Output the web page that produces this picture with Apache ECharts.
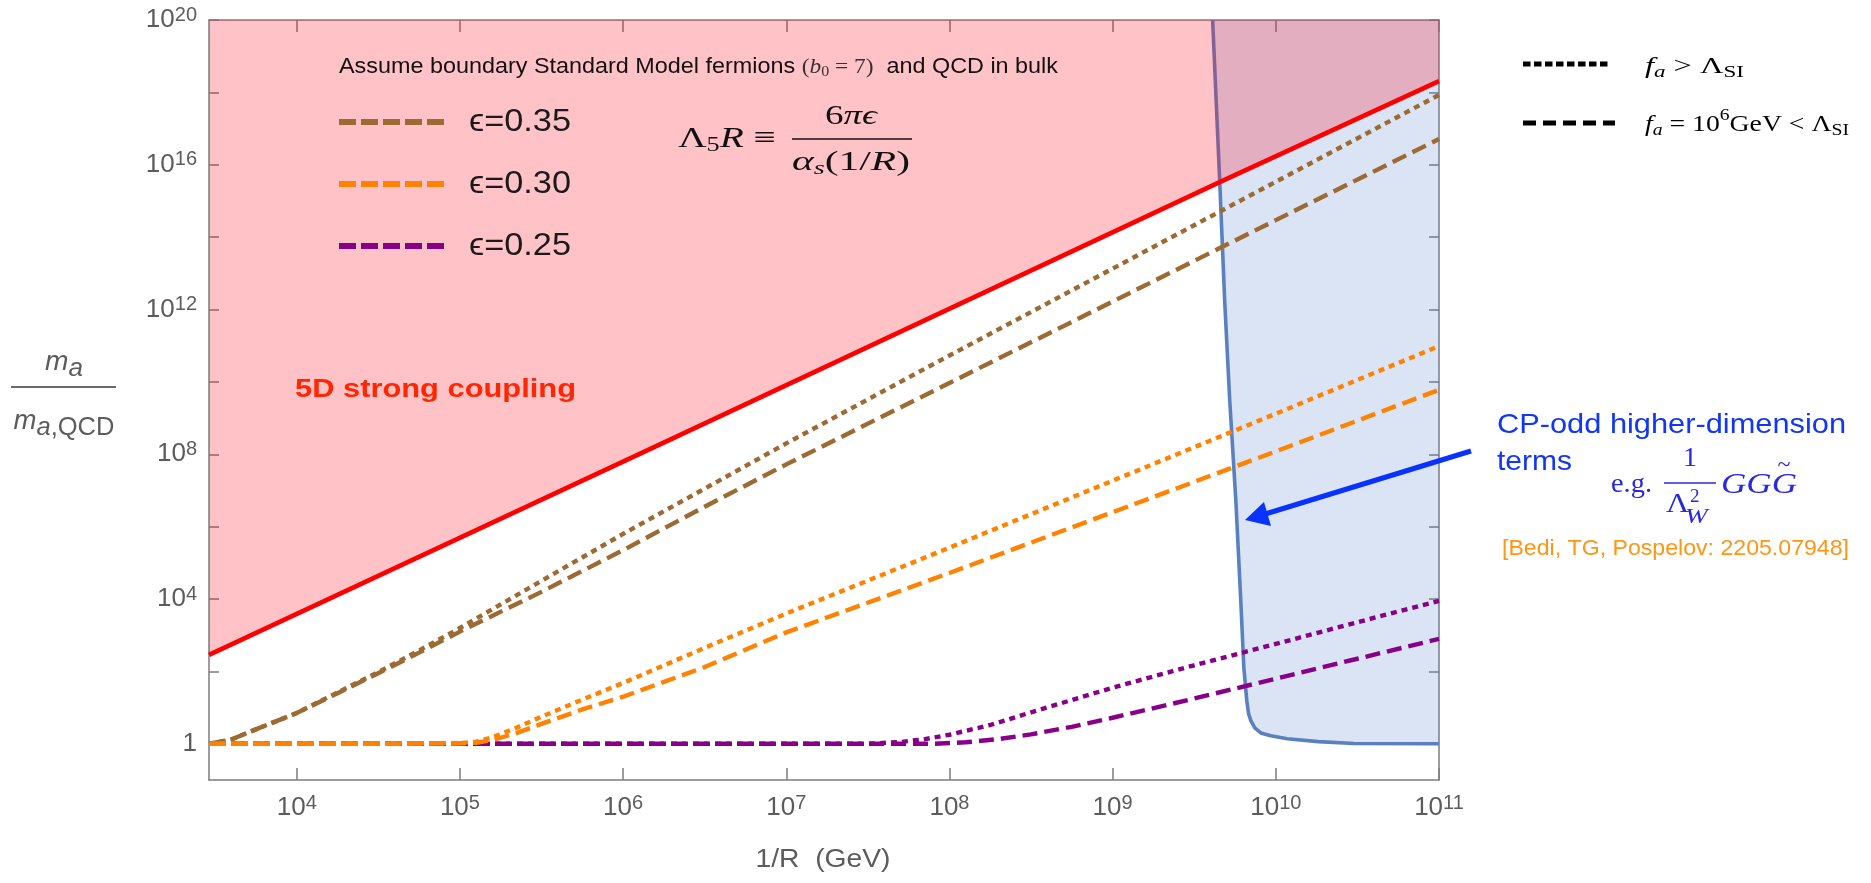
<!DOCTYPE html>
<html>
<head>
<meta charset="utf-8">
<title>Axion mass vs 1/R</title>
<script src="https://cdn.jsdelivr.net/npm/echarts@6.0.0/dist/echarts.min.js"></script>
<style>
html,body{margin:0;padding:0;background:#ffffff;}
#chart{width:1871px;height:883px;}
</style>
</head>
<body>
<div id="chart"></div>
<script>
// ---------------- data ----------------
const xRange = [2.9e3, 1e11];     // 1/R (GeV)
const yRange = [0.1, 1e20];       // m_a / m_a,QCD
const xTickValues  = [1e4, 1e5, 1e6, 1e7, 1e8, 1e9, 1e10, 1e11];
const yTickValues  = [1, 1e2, 1e4, 1e6, 1e8, 1e10, 1e12, 1e14, 1e16, 1e18, 1e20];
const yLabelValues = [1, 1e4, 1e8, 1e12, 1e16, 1e20];

// 5D strong coupling boundary
const strongX = [2.9e3, 1.47e6, 4.53e9, 1e11];
const strongY = [2.88e2, 1.41e8, 3.31e15, 2.04e18];

// CP-odd higher-dimension terms boundary
const cpX = [4.10e9, 4.53e9, 4.86e9, 5.22e9, 5.69e9, 6.10e9, 6.37e9, 6.64e9, 6.81e9, 7.03e9, 7.43e9, 8.09e9, 9.31e9, 1.175e10, 1.82e10, 3.02e10, 1e11];
const cpY = [1e20, 3.55e15, 1.74e12, 3.02e9, 5.13e6, 8.91e3, 126, 15.5, 6.76, 4.37, 2.75, 2.0, 1.66, 1.38, 1.15, 1.02, 1];

// epsilon = 0.35
const brownX = [2.9e3, 3.98e3, 5.62e3, 1e4, 1.78e4, 3.16e4, 5.62e4, 1e5, 3.16e5, 1e6, 3.16e6, 1e7, 1e8, 1e9, 1e10, 1e11];
const brownDottedY = [1, 1.32, 2.51, 7.08, 26.3, 95.5, 380, 1.58e3, 3.16e4, 6.31e5, 1.12e7, 2.0e8, 5.37e10, 1.35e13, 3.39e15, 8.51e17];
const brownDashedY = [1, 1.32, 2.51, 7.08, 25.1, 89.1, 331, 1.26e3, 1.58e4, 2.24e5, 3.55e6, 5.25e7, 9.33e9, 1.66e12, 2.95e14, 5.13e16];

// epsilon = 0.30
const orangeX = [2.9e3, 1e4, 3.16e4, 1e5, 1.26e5, 1.58e5, 2.24e5, 3.16e5, 5.62e5, 1e6, 3.16e6, 1e7, 1e8, 1e9, 1e10, 1e11];
const orangeDottedY = [1, 1, 1, 1.05, 1.15, 1.51, 2.82, 5.62, 16.6, 47.9, 447, 3.98e3, 2.63e5, 1.86e7, 1.32e9, 9.77e10];
const orangeDashedY = [1, 1, 1, 1.02, 1.07, 1.26, 2.0, 3.55, 8.91, 20.0, 132, 1.2e3, 5.25e4, 2.51e6, 1.2e8, 6.03e9];

// epsilon = 0.25
const purpleDottedX = [2.9e3, 1e5, 1e7, 3.16e7, 5.01e7, 7.08e7, 1e8, 1.78e8, 3.16e8, 1e9, 3.16e9, 1e10, 3.16e10, 1e11];
const purpleDottedY = [1, 1, 1, 1, 1.12, 1.35, 1.78, 3.31, 7.41, 35.5, 148, 575, 2.29e3, 8.91e3];
const purpleDashedX = [2.9e3, 1e5, 1e7, 7.94e7, 1.26e8, 2e8, 3.16e8, 5.62e8, 1e9, 3.16e9, 1e10, 3.16e10, 1e11];
const purpleDashedY = [1, 1, 1, 1, 1.1, 1.35, 1.82, 2.95, 5.25, 17.8, 63.1, 224, 794];

const epsLabels = ['ϵ=0.35', 'ϵ=0.30', 'ϵ=0.25'];

// ---------------- styles ----------------
const SANS = '"Liberation Sans", Arial, Helvetica, sans-serif';
const SERIF = '"Liberation Serif", "Times New Roman", serif';
const BROWN = '#9c6a33', ORANGE = '#ff8300', PURPLE = '#880088';
const AXIS_GRAY = '#7d7d7d', LABEL_GRAY = '#5c5c5c';
const DOT = [6, 5], DASH = [15, 7];

const lg = v => Math.log10(v);
const ex = v => Math.round(Math.log10(v) * 1e6) / 1e6;
const toPts = (xs, ys) => xs.map((x, i) => [lg(x), lg(ys[i])]);

// ---------------- text layout helper ----------------
const mctx = document.createElement('canvas').getContext('2d');
function fstr(p) { return (p.it ? 'italic ' : '') + (p.bold ? 'bold ' : '') + p.size + 'px ' + (p.fam || SANS); }
function run(pieces, o) {
  const ws = pieces.map(p => { mctx.font = fstr(p); return mctx.measureText(p.t).width; });
  const nat = ws.reduce((a, b) => a + b, 0);
  const sx = o.width ? o.width / nat : (o.sx || 1);
  const total = nat * sx;
  let cx = o.align === 'center' ? o.x - total / 2 : (o.align === 'right' ? o.x - total : o.x);
  const els = [];
  pieces.forEach((p, i) => {
    els.push({
      type: 'text', x: cx, y: o.y + (p.dy || 0), scaleX: sx * (p.sx || 1), z: 100, silent: true,
      style: { text: p.t, font: fstr(p), fill: p.c || o.c || '#000',
               align: 'left', verticalAlign: 'middle', textAlign: 'left', textVerticalAlign: 'middle' }
    });
    cx += ws[i] * sx;
  });
  return els;
}
function seg(x1, y1, x2, y2, stroke, w, dash) {
  return { type: 'line', z: 100, silent: true, shape: { x1, y1, x2, y2 },
           style: { stroke, lineWidth: w, lineDash: dash || null, lineCap: 'butt' } };
}

const graphics = [];
const push = a => a.forEach(e => graphics.push(e));

// header text
push(run([
  { t: 'Assume boundary Standard Model fermions ', size: 22 },
  { t: '(', size: 22, fam: SERIF, c: '#333' },
  { t: 'b', size: 22, fam: SERIF, it: true, c: '#333' },
  { t: '0', size: 15, fam: SERIF, dy: 5, c: '#333' },
  { t: ' = 7)', size: 22, fam: SERIF, c: '#333' },
  { t: '  and QCD in bulk', size: 22 }
], { x: 339, y: 67, width: 719, c: '#111' }));

// epsilon legend
const legendColors = [BROWN, ORANGE, PURPLE];
const legendRows = [122, 184, 246];
epsLabels.forEach((lab, i) => {
  graphics.push(seg(339, legendRows[i], 444, legendRows[i], legendColors[i], 6, [17, 5]));
  push(run([{ t: lab, size: 31 }], { x: 469, y: legendRows[i], width: 102, c: '#1a1a1a' }));
});

// Lambda_5 R formula
push(run([
  { t: 'Λ', size: 30, fam: SERIF },
  { t: '5', size: 20, fam: SERIF, dy: 7 },
  { t: 'R', size: 30, fam: SERIF, it: true },
  { t: ' ≡', size: 30, fam: SERIF }
], { x: 678, y: 139, width: 98, c: '#111' }));
push(run([
  { t: '6', size: 28, fam: SERIF },
  { t: 'π', size: 28, fam: SERIF, it: true },
  { t: 'ϵ', size: 28, fam: SERIF, it: true }
], { x: 851, y: 117, align: 'center', width: 52, c: '#111' }));
graphics.push(seg(792, 139, 912, 139, '#111', 1.5));
push(run([
  { t: 'α', size: 28, fam: SERIF, it: true },
  { t: 's', size: 19, fam: SERIF, it: true, dy: 6 },
  { t: '(1/', size: 28, fam: SERIF },
  { t: 'R', size: 28, fam: SERIF, it: true },
  { t: ')', size: 28, fam: SERIF }
], { x: 851, y: 163, align: 'center', width: 118, c: '#111' }));

// right legend (line styles)
graphics.push(seg(1523, 64, 1611, 64, '#000', 5, [7.5, 3.5]));
graphics.push(seg(1523, 123, 1615, 123, '#000', 5, [13, 7]));
push(run([
  { t: 'f', size: 24, fam: SERIF, it: true },
  { t: 'a', size: 17, fam: SERIF, it: true, dy: 6 },
  { t: ' > ', size: 24, fam: SERIF },
  { t: 'Λ', size: 24, fam: SERIF },
  { t: 'SI', size: 17, fam: SERIF, dy: 6 }
], { x: 1645, y: 67, width: 99, c: '#000' }));
push(run([
  { t: 'f', size: 24, fam: SERIF, it: true },
  { t: 'a', size: 17, fam: SERIF, it: true, dy: 6 },
  { t: ' = 10', size: 24, fam: SERIF },
  { t: '6', size: 17, fam: SERIF, dy: -9 },
  { t: 'GeV < Λ', size: 24, fam: SERIF },
  { t: 'SI', size: 17, fam: SERIF, dy: 6 }
], { x: 1645, y: 125, width: 204, c: '#000' }));

// 5D strong coupling
push(run([{ t: '5D strong coupling', size: 26, bold: true }], { x: 295, y: 390, width: 281, c: '#ff2600' }));

// axis titles
push(run([
  { t: 'm', size: 27, it: true },
  { t: 'a', size: 25, it: true, dy: 7 }
], { x: 64, y: 362, align: 'center', width: 38, c: LABEL_GRAY }));
graphics.push(seg(11, 387, 116, 387, '#6a6a6a', 2));
push(run([
  { t: 'm', size: 27, it: true },
  { t: 'a', size: 25, it: true, dy: 7 },
  { t: ',QCD', size: 25, dy: 7 }
], { x: 64, y: 421, align: 'center', width: 101, c: LABEL_GRAY }));
push(run([{ t: '1/R  (GeV)', size: 25 }], { x: 823, y: 860, align: 'center', width: 135, c: LABEL_GRAY }));

// CP-odd annotation
const BLUE_T = '#1236f5', BLUE_M = '#2828e0';
push(run([{ t: 'CP-odd higher-dimension', size: 28 }], { x: 1497, y: 425, width: 349, c: BLUE_T }));
push(run([{ t: 'terms', size: 28 }], { x: 1497, y: 462, width: 75, c: BLUE_T }));
push(run([{ t: 'e.g.', size: 28, fam: SERIF }], { x: 1611, y: 485, width: 41, c: BLUE_M }));
push(run([{ t: '1', size: 28, fam: SERIF }], { x: 1690, y: 459, align: 'center', c: BLUE_M }));
graphics.push(seg(1664, 483, 1716, 483, BLUE_M, 1.5));
push(run([{ t: 'Λ', size: 28, fam: SERIF }], { x: 1666, y: 505, sx: 1.15, c: BLUE_M }));
push(run([{ t: '2', size: 19, fam: SERIF }], { x: 1690, y: 497, c: BLUE_M }));
push(run([{ t: 'W', size: 21, fam: SERIF, it: true }], { x: 1685, y: 517, sx: 1.3, c: BLUE_M }));
push(run([{ t: 'GGG', size: 30, fam: SERIF, it: true }], { x: 1721, y: 485, width: 76, c: BLUE_M }));
push(run([{ t: '~', size: 24, fam: SERIF }], { x: 1784, y: 466, align: 'center', c: BLUE_M }));
push(run([{ t: '[Bedi, TG, Pospelov: 2205.07948]', size: 22 }], { x: 1502, y: 549, width: 347, c: '#ff9612' }));

// arrow
graphics.push(seg(1471, 451, 1262, 515, '#0a32ff', 5));
graphics.push({ type: 'polygon', z: 100, silent: true,
  shape: { points: [[1245, 520], [1271, 526], [1264, 502]] }, style: { fill: '#0a32ff' } });

// ---------------- axes ----------------
const tickLabelRich = {
  b: { fontSize: 26, fontFamily: SANS, color: LABEL_GRAY, lineHeight: 30 },
  s: { fontSize: 20, fontFamily: SANS, color: LABEL_GRAY, lineHeight: 20, verticalAlign: 'top' }
};
const expLabel = v => { const e = Math.round(v); return e === 0 ? '{b|1}' : '{b|10}{s|' + e + '}'; };
const lineSt = { color: AXIS_GRAY, width: 1.5 };

function xAx(pos, labels) {
  return {
    type: 'value', position: pos, min: lg(xRange[0]), max: lg(xRange[1]),
    splitLine: { show: false },
    axisLine: { show: true, onZero: false, lineStyle: lineSt },
    axisTick: { show: true, inside: true, length: 12, customValues: xTickValues.map(ex), lineStyle: lineSt },
    axisLabel: labels ? { show: true, customValues: xTickValues.map(ex), margin: 13, formatter: expLabel, rich: tickLabelRich }
                      : { show: false }
  };
}
function yAx(pos, labels) {
  return {
    type: 'value', position: pos, min: lg(yRange[0]), max: lg(yRange[1]),
    splitLine: { show: false },
    axisLine: { show: true, onZero: false, lineStyle: lineSt },
    axisTick: { show: true, inside: true, length: 10, customValues: yTickValues.map(ex), lineStyle: lineSt },
    axisLabel: labels ? { show: true, customValues: yLabelValues.map(ex), margin: 12, formatter: expLabel, rich: tickLabelRich }
                      : { show: false }
  };
}

function curve(name, xs, ys, color, dash) {
  return {
    name, type: 'line', data: toPts(xs, ys), z: 5, showSymbol: false, symbol: 'none',
    smooth: false, silent: true,
    lineStyle: { color, width: 4.4, type: dash, cap: 'butt', join: 'round' }
  };
}

const option = {
  animation: false,
  backgroundColor: '#ffffff',
  grid: { left: 209, right: 432, top: 20, bottom: 103, containLabel: false, outerBoundsMode: 'none' },
  xAxis: [xAx('bottom', true), xAx('top', false)],
  yAxis: [yAx('left', true), yAx('right', false)],
  series: [
    {
      name: 'CP-odd higher-dimension terms', type: 'line', data: toPts(cpX, cpY), z: 1,
      showSymbol: false, symbol: 'none', smooth: false, silent: true,
      lineStyle: { color: '#5a80bf', width: 3.6, join: 'round' },
      areaStyle: { origin: 'end', color: 'rgba(70,120,200,0.2)', opacity: 1 }
    },
    {
      name: '5D strong coupling', type: 'line', data: toPts(strongX, strongY), z: 2,
      showSymbol: false, symbol: 'none', silent: true,
      lineStyle: { color: '#ff0000', width: 4.6 },
      areaStyle: { origin: 'end', color: 'rgba(255,10,30,0.25)', opacity: 1 }
    },
    curve('eps 0.25 dashed', purpleDashedX, purpleDashedY, PURPLE, DASH),
    curve('eps 0.25 dotted', purpleDottedX, purpleDottedY, PURPLE, DOT),
    curve('eps 0.35 dashed', brownX, brownDashedY, BROWN, DASH),
    curve('eps 0.35 dotted', brownX, brownDottedY, BROWN, DOT),
    curve('eps 0.30 dashed', orangeX, orangeDashedY, ORANGE, DASH),
    curve('eps 0.30 dotted', orangeX, orangeDottedY, ORANGE, DOT)
  ],
  graphic: { elements: graphics }
};

const chart = echarts.init(document.getElementById('chart'), null, { renderer: 'canvas' });
chart.setOption(option);
</script>
</body>
</html>
